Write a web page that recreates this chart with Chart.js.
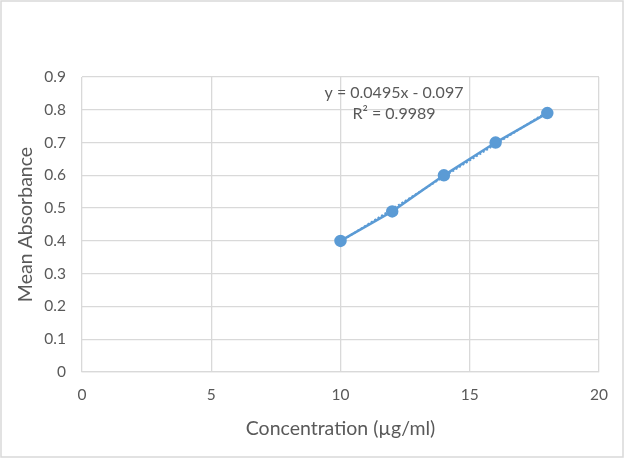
<!DOCTYPE html>
<html>
<head>
<meta charset="utf-8">
<script src="https://cdn.jsdelivr.net/npm/chart.js@4/dist/chart.umd.min.js"></script>
<style>
  html, body { margin: 0; padding: 0; background: #fff; }
  canvas { display: block; }
</style>
</head>
<body>
<canvas id="chartCanvas" width="624" height="459"></canvas>
<script>
// measured points
const concentrations = [10, 12, 14, 16, 18];
const absorbances = [0.40, 0.49, 0.60, 0.70, 0.79];

// trendline ends
const trendX = [10, 18];
const trendY = [0.398, 0.794];

const equationLines = ["y = 0.0495x - 0.097", "R² = 0.9989"];

const blue = "#5B9BD5";
const gridGrey = "#D9D9D9";
const textGrey = "#595959";
const fontFamily = "Lato, 'Open Sans', sans-serif";

const frameAndLabels = {
    id: "frameAndLabels",
    afterDraw(chart) {
        const ctx = chart.ctx;
        ctx.save();
        ctx.strokeStyle = gridGrey;
        ctx.lineWidth = 1.5;
        ctx.strokeRect(1, 1, chart.width - 2, chart.height - 3);

        const xs = chart.scales.x;
        const ys = chart.scales.y;
        ctx.fillStyle = textGrey;
        ctx.font = "16px " + fontFamily;
        ctx.textAlign = "center";
        ctx.textBaseline = "middle";
        const cx = xs.getPixelForValue(12.07);
        ctx.fillText(equationLines[0], cx, ys.getPixelForValue(0.853));
        ctx.fillText(equationLines[1], cx, ys.getPixelForValue(0.788));
        ctx.restore();
    }
};

const ctx = document.getElementById("chartCanvas").getContext("2d");
new Chart(ctx, {
    type: "scatter",
    data: {
        datasets: [
            {
                label: "Mean Absorbance",
                data: concentrations.map((c, i) => ({ x: c, y: absorbances[i] })),
                showLine: true,
                borderColor: blue,
                backgroundColor: blue,
                borderWidth: 2.5,
                pointRadius: 5,
                pointHoverRadius: 5,
                order: 1
            },
            {
                label: "Linear",
                data: trendX.map((c, i) => ({ x: c, y: trendY[i] })),
                showLine: true,
                borderColor: blue,
                borderWidth: 2,
                borderDash: [2, 2],
                pointRadius: 0,
                order: 2
            }
        ]
    },
    options: {
        responsive: false,
        animation: false,
        layout: { padding: { top: 77, right: 25, left: 0, bottom: 15 } },
        plugins: {
            legend: { display: false },
            tooltip: { enabled: false }
        },
        scales: {
            x: {
                type: "linear",
                min: 0,
                max: 20,
                ticks: {
                    stepSize: 5,
                    color: textGrey,
                    padding: 14,
                    font: { family: fontFamily, size: 15.5 }
                },
                grid: { color: gridGrey, lineWidth: 1.3, drawTicks: false },
                border: { color: gridGrey, width: 1.3 },
                title: {
                    display: true,
                    text: "Concentration (µg/ml)",
                    color: textGrey,
                    padding: { top: 8, bottom: 4 },
                    font: { family: fontFamily, size: 19.5 }
                },
                afterFit(scale) { scale.height = 72; }
            },
            y: {
                min: 0,
                max: 0.9,
                ticks: {
                    stepSize: 0.1,
                    color: textGrey,
                    padding: 16,
                    font: { family: fontFamily, size: 15.5 },
                    callback: v => (Math.round(v * 10) / 10).toString()
                },
                grid: { color: gridGrey, lineWidth: 1.3, drawTicks: false },
                border: { display: false },
                title: {
                    display: true,
                    text: "Mean Absorbance",
                    color: textGrey,
                    padding: { top: 14, bottom: 6 },
                    font: { family: fontFamily, size: 19.5 }
                },
                afterFit(scale) { scale.width = 82; }
            }
        }
    },
    plugins: [frameAndLabels]
});
</script>
</body>
</html>
